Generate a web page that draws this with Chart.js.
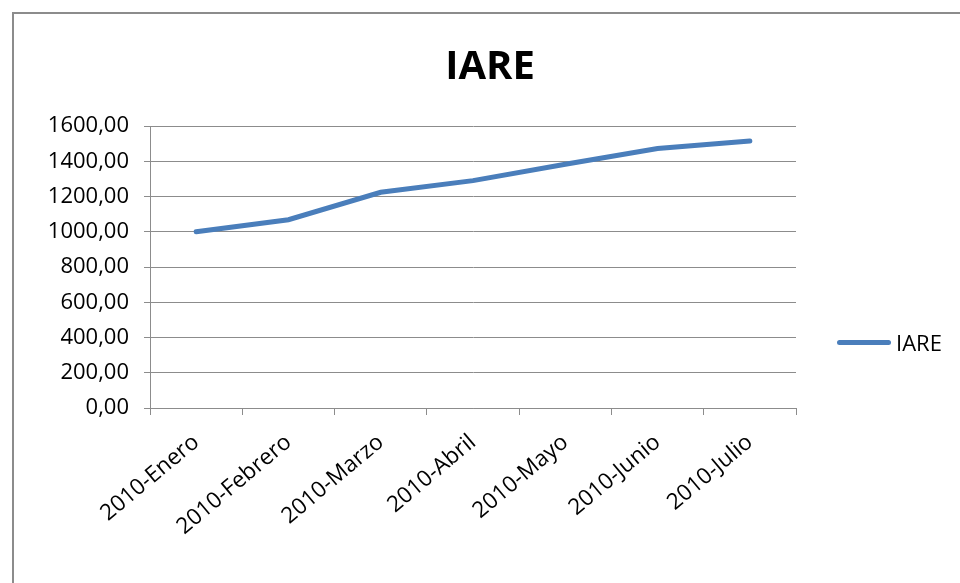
<!DOCTYPE html>
<html>
<head>
<meta charset="utf-8">
<script src="https://cdn.jsdelivr.net/npm/chart.js@4"></script>
<style>
  body { margin: 0; background: #fff; }
  #wrap { position: relative; width: 960px; height: 583px; overflow: hidden; }
  #frame { position: absolute; left: 12px; top: 12px; width: 1000px; height: 700px; border: 2px solid #8c8c8c; box-sizing: border-box; }
  #title { position: absolute; left: 0; width: 980px; top: 36px; text-align: center; font: bold 40px "Open Sans", sans-serif; color: #000; }
  #legend { position: absolute; left: 837px; top: 327px; font: 22px "Open Sans", sans-serif; color: #000; display: flex; align-items: center; }
  #legend span.swatch { display: inline-block; width: 54px; height: 5px; border-radius: 3px; background: #4a7ebb; margin-right: 5px; }
  canvas { position: absolute; left: 0; top: 0; }
</style>
</head>
<body>
<div id="wrap">
  <div id="frame"></div>
  <canvas id="chart" width="960" height="583"></canvas>
  <div id="title">IARE</div>
  <div id="legend"><span class="swatch"></span>IARE</div>
</div>
<script>
const months = ["2010-Enero", "2010-Febrero", "2010-Marzo", "2010-Abril", "2010-Mayo", "2010-Junio", "2010-Julio"];
const iare = [1000, 1068, 1224, 1290, 1383, 1472, 1515];
const yTicks = [0, 200, 400, 600, 800, 1000, 1200, 1400, 1600];

const ctx = document.getElementById("chart").getContext("2d");

const chart = new Chart(ctx, {
    type: "line",
    data: {
        labels: months,
        datasets: [
            {
                label: "IARE",
                data: iare,
                borderColor: "#4a7ebb",
                borderWidth: 5,
                pointRadius: 0,
                tension: 0,
                borderCapStyle: "round",
            },
        ],
    },
    options: {
        responsive: false,
        animation: false,
        layout: {
            padding: { left: 0, right: 164, top: 126, bottom: 0 },
        },
        plugins: {
            legend: { display: false },
            title: { display: false },
            tooltip: { enabled: false },
        },
        scales: {
            x: {
                offset: true,
                grid: {
                    offset: true,
                    drawOnChartArea: false,
                    drawTicks: true,
                    tickLength: 7,
                    color: "#8c8c8c",
                },
                border: { color: "#8c8c8c" },
                ticks: {
                    minRotation: 40,
                    maxRotation: 40,
                    padding: 14,
                    color: "#000",
                    font: { family: "Open Sans", size: 22.5 },
                },
                afterFit: (scale) => { scale.height = 175; },
            },
            y: {
                min: 0,
                max: 1600,
                afterBuildTicks: (scale) => { scale.ticks = yTicks.map((v) => ({ value: v })); },
                grid: {
                    color: "#8c8c8c",
                    tickLength: 6,
                },
                border: { color: "#8c8c8c" },
                ticks: {
                    padding: 15,
                    color: "#000",
                    font: { family: "Open Sans", size: 22 },
                    callback: (v) => v.toFixed(2).replace(".", ","),
                },
                afterFit: (scale) => { scale.width = 150; },
            },
        },
    },
});
</script>
</body>
</html>
